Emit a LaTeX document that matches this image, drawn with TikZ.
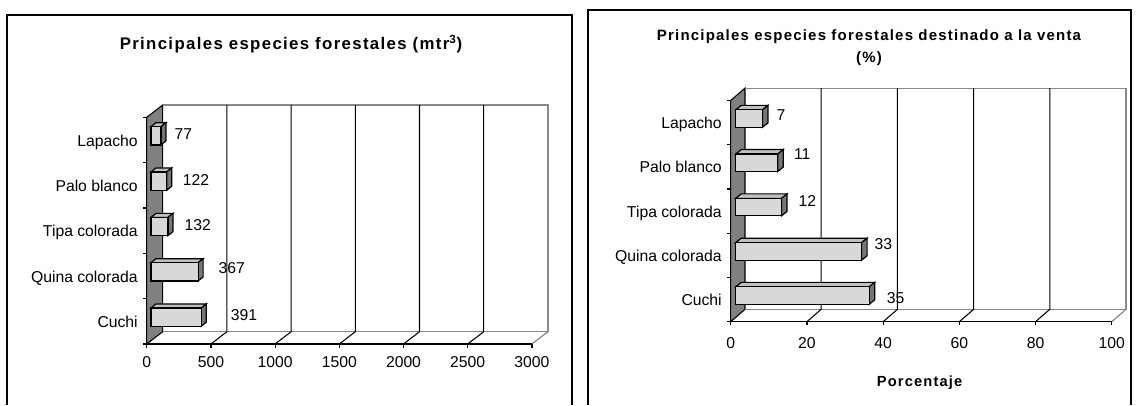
\documentclass[tikz,border=0pt]{standalone}
\usepackage{fontspec}
\setmainfont{Liberation Sans}
\newfontfamily\titlefont[LetterSpace=8.0]{Liberation Sans}
\usepackage{xcolor}

\definecolor{wallgray}{RGB}{128,128,128}
\definecolor{framegray}{RGB}{136,136,136}
\definecolor{barfront}{RGB}{216,216,216}
\definecolor{bartop}{RGB}{192,192,192}
\definecolor{barside}{RGB}{118,118,118}

\tikzset{
  panel/.style={line width=1.5pt, black},
  wall/.style={fill=wallgray, draw=black, line width=0.8pt},
  backline/.style={line width=0.9pt, framegray},
  gridline/.style={line width=0.8pt, black},
  axisline/.style={line width=0.9pt, black},
  barface/.style={fill=barfront, draw=black, line width=0.9pt},
  bartopface/.style={fill=bartop, draw=black, line width=0.9pt},
  barsideface/.style={fill=barside, draw=black, line width=0.9pt},
  labeltext/.style={font=\fontsize{11.8}{14}\selectfont, inner sep=0pt},
  titletext/.style={font=\titlefont\bfseries\fontsize{#1}{15}\selectfont, inner sep=0pt},
}

\begin{document}
\begin{tikzpicture}[x=0.75pt, y=-0.75pt]
  \useasboundingbox (0,0) rectangle (1138,405);

  % Panel frames
  \draw[panel] (7,405) -- (7,15) -- (572,15) -- (572,405);
  \draw[panel] (588,405) -- (588,9.5) -- (1131,9.5) -- (1131,405);

  %% Left chart (mtr3)
  % Title
  \node[titletext=12.6, anchor=base] (voltitle) at (291,49.3)
    {Principales especies forestales (mtr\textsuperscript{3})};

  % Side wall
  \filldraw[wall] (146.7,117.3) -- (162.7,105) -- (162.7,331.7) -- (146.7,344) -- cycle;

  % Back wall and floor
  \draw[backline] (162.7,105) -- (547.9,105) -- (547.9,331.7) -- (162.7,331.7);
  \draw[backline] (547.9,331.7) -- (531.9,344);
  \foreach \i in {1,...,5}
    \draw[gridline] ({162.7+64.2*\i},105) -- ({162.7+64.2*\i},331.7) -- ({146.7+64.2*\i},344);

  % Axes and ticks
  \draw[axisline] (146.7,117.3) -- (146.7,344) -- (531.9,344);
  \foreach \j in {0,...,5}
    \draw[axisline] (143.2,{117.3+45.34*\j}) -- (146.7,{117.3+45.34*\j});
  \foreach \i/\lab in {0/0,1/500,2/1000,3/1500,4/2000,5/2500,6/3000} {
    \draw[axisline] ({146.7+64.2*\i},344) -- ({146.7+64.2*\i},347.5);
    \node[labeltext, anchor=base] (volx\i) at ({146.7+64.2*\i},367.3) {\lab};
  }

  % Bars
  \foreach \n/\yc/\len/\val/\vx/\vy in {lap/135.8/9.9/77/183.3/139.7,
      pal/181.1/15.7/122/196/185, tip/226.5/16.9/132/197.7/230.7,
      qui/271.8/47.1/367/231.7/273.4, cuc/317.1/50.2/391/244/320} {
    \filldraw[bartopface] (151,\yc-9.15) -- ++(5,-4) -- ++(\len,0) -- (151+\len,\yc-9.15) -- cycle;
    \filldraw[barsideface] (151+\len,\yc-9.15) -- ++(5,-4) -- ++(0,18.3) -- (151+\len,\yc+9.15) -- cycle;
    \filldraw[barface] (151,\yc-9.15) rectangle (151+\len,\yc+9.15);
    \node[labeltext, anchor=base] (volval-\n) at (\vx,\vy) {\val};
  }

  % Category labels
  \foreach \n/\yb/\cat in {lap/146/Lapacho, pal/191.3/Palo blanco, tip/236.7/Tipa colorada,
      qui/282/Quina colorada, cuc/327.3/Cuchi}
    \node[labeltext, anchor=base east] (volcat-\n) at (138,\yb) {\cat};

  %% Right chart (%)
  % Title
  \node[titletext=11.25, anchor=base] (pcttitle) at (869,40)
    {Principales especies forestales destinado a la venta};
  \node[titletext=11.25, anchor=base] (pctunit) at (869,62) {(\%)};

  % Side wall
  \filldraw[wall] (730.7,100.5) -- (745,88.1) -- (745,309.3) -- (730.7,321.7) -- cycle;

  % Back wall and floor
  \draw[backline] (745,88.1) -- (1126,88.1) -- (1126,309.3) -- (745,309.3);
  \draw[backline] (1126,309.3) -- (1111.7,321.7);
  \foreach \i in {1,...,4}
    \draw[gridline] ({745+76.2*\i},88.1) -- ({745+76.2*\i},309.3) -- ({730.7+76.2*\i},321.7);

  % Axes and ticks
  \draw[axisline] (730.7,100.5) -- (730.7,321.7) -- (1111.7,321.7);
  \foreach \j in {0,...,5}
    \draw[axisline] (727.2,{100.5+44.24*\j}) -- (730.7,{100.5+44.24*\j});
  \foreach \i/\lab in {0/0,1/20,2/40,3/60,4/80,5/100} {
    \draw[axisline] ({730.7+76.2*\i},321.7) -- ({730.7+76.2*\i},325.2);
    \node[labeltext, anchor=base] (pctx\i) at ({730.7+76.2*\i},348.3) {\lab};
  }

  % Bars
  \foreach \n/\yc/\len/\val/\vx/\vy in {lap/118.6/26.7/7/781/120.7,
      pal/162.8/42/11/802.3/159.7, tip/207.1/45.8/12/807.3/206.4,
      qui/251.4/125.9/33/883.3/249.7, cuc/295.6/133.5/35/895.7/303} {
    \filldraw[bartopface] (735.7,\yc-8.75) -- ++(5.5,-4.5) -- ++(\len,0) -- (735.7+\len,\yc-8.75) -- cycle;
    \filldraw[barsideface] (735.7+\len,\yc-8.75) -- ++(5.5,-4.5) -- ++(0,17.5) -- (735.7+\len,\yc+8.75) -- cycle;
    \filldraw[barface] (735.7,\yc-8.75) rectangle (735.7+\len,\yc+8.75);
    \node[labeltext, anchor=base] (pctval-\n) at (\vx,\vy) {\val};
  }

  % Category labels
  \foreach \n/\yb/\cat in {lap/128.6/Lapacho, pal/172.8/Palo blanco, tip/217.1/Tipa colorada,
      qui/261.4/Quina colorada, cuc/305.6/Cuchi}
    \node[labeltext, anchor=base east] (pctcat-\n) at (722,\yb) {\cat};

  % Axis title
  \node[titletext=11, anchor=base] (pctaxis) at (919.6,386) {Porcentaje};
\end{tikzpicture}
\end{document}
